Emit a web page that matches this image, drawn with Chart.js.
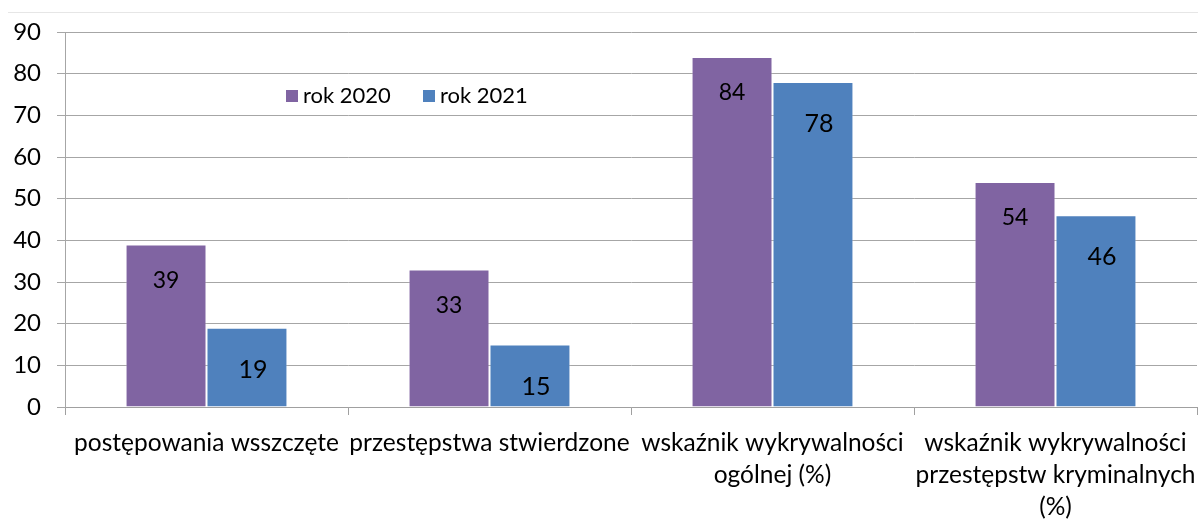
<!DOCTYPE html>
<html><head><meta charset="utf-8">
<script src="https://cdn.jsdelivr.net/npm/chart.js@4/dist/chart.umd.min.js"></script>
<style>
html,body{margin:0;padding:0;background:#fff;}
#wrap{position:relative;width:1198px;height:520px;}
#topline{position:absolute;left:8px;right:0;top:12px;height:0;border-top:1px solid #e6e6e6;}
canvas{position:absolute;left:0;top:0;}
</style></head>
<body><div id="wrap"><div id="topline"></div><canvas id="c" width="1198" height="520"></canvas></div>
<script>
const categories = [
  ["postępowania wsszczęte"],
  ["przestępstwa stwierdzone"],
  ["wskaźnik wykrywalności", "ogólnej (%)"],
  ["wskaźnik wykrywalności", "przestępstw kryminalnych", "(%)"]
];
const seriesNames = ["rok 2020", "rok 2021"];
const values2020 = [39, 33, 84, 54];
const values2021 = [19, 15, 78, 46];
const yTicks = [0, 10, 20, 30, 40, 50, 60, 70, 80, 90];

const FONT = "Lato, Open Sans, sans-serif";
const colors = ["#8064A2", "#4F81BD"];

const labelPlugin = {
  id: 'valueLabels',
  afterDatasetsDraw(chart) {
    const ctx = chart.ctx;
    ctx.save();
    ctx.fillStyle = '#000';
    ctx.textAlign = 'center';
    ctx.textBaseline = 'middle';
    const specs = [{size: 23, off: 36, dx: 0}, {size: 25, off: 42, dx: 6}];
    chart.data.datasets.forEach((ds, di) => {
      const meta = chart.getDatasetMeta(di);
      const s = specs[di];
      ctx.font = s.size + 'px ' + FONT;
      meta.data.forEach((bar, i) => {
        ctx.fillText(String(ds.data[i]), bar.x + s.dx, bar.y + s.off);
      });
    });
    ctx.restore();
  }
};

const legendPlugin = {
  id: 'insideLegend',
  afterDraw(chart) {
    const ctx = chart.ctx;
    ctx.save();
    ctx.font = '22px ' + FONT;
    ctx.textBaseline = 'middle';
    ctx.textAlign = 'left';
    const y = 96;
    const xs = [286, 423];
    seriesNames.forEach((n, i) => {
      ctx.fillStyle = colors[i];
      ctx.fillRect(xs[i], y - 6, 12, 12);
      ctx.fillStyle = '#000';
      ctx.fillText(n, xs[i] + 17, y);
    });
    ctx.restore();
  }
};

new Chart(document.getElementById('c'), {
  type: 'bar',
  data: {
    labels: categories,
    datasets: [
      {label: seriesNames[0], data: values2020, backgroundColor: colors[0], borderColor: 'rgba(255,255,255,0.35)', borderWidth: 1},
      {label: seriesNames[1], data: values2021, backgroundColor: colors[1], borderColor: 'rgba(255,255,255,0.35)', borderWidth: 1}
    ]
  },
  options: {
    responsive: false,
    animation: false,
    devicePixelRatio: 1,
    layout: {padding: {top: 32, right: 1, left: 0, bottom: 0}},
    plugins: {legend: {display: false}, tooltip: {enabled: false}},
    datasets: {bar: {categoryPercentage: 0.572, barPercentage: 1.0}},
    scales: {
      x: {
        afterFit(scale) { scale.height = 113; scale.paddingLeft = 0; scale.paddingRight = 0; },
        grid: {display: true, drawOnChartArea: false, offset: true, color: '#a0a0a0', tickLength: 8, lineWidth: 1},
        border: {color: '#a0a0a0'},
        ticks: {color: '#000', font: {family: FONT, size: 24.5, lineHeight: 1.31}, padding: 12, maxRotation: 0, autoSkip: false}
      },
      y: {
        min: 0, max: 90,
        afterFit(scale) { scale.width = 65; scale.paddingTop = 0; scale.paddingBottom = 0; },
        afterBuildTicks(scale) { scale.ticks = yTicks.map(v => ({value: v})); },
        grid: {color: '#a6a6a6', tickLength: 8, lineWidth: 1},
        border: {color: '#a6a6a6'},
        ticks: {color: '#000', font: {family: FONT, size: 24}, padding: 16}
      }
    }
  },
  plugins: [labelPlugin, legendPlugin]
});
</script></body></html>
